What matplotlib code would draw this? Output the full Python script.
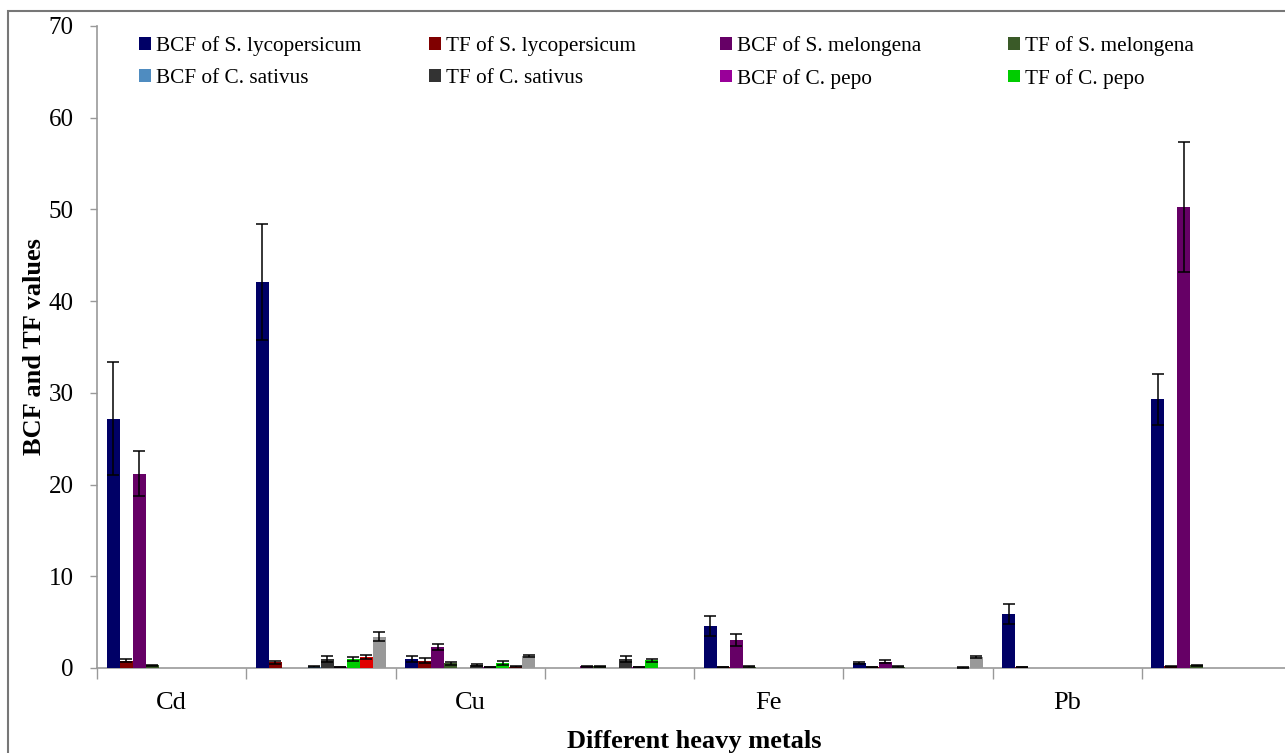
import matplotlib
matplotlib.use('Agg')
import matplotlib.pyplot as plt
from matplotlib.patches import Rectangle, Patch
import numpy as np

plt.rcParams['font.family'] = ['Liberation Serif', 'DejaVu Serif']

# 8 categories, only every other one labelled
categories = ['Cd', '', 'Cu', '', 'Fe', '', 'Pb', '']

series_names = ['BCF of S. lycopersicum', 'TF of S. lycopersicum',
                'BCF of S. melongena', 'TF of S. melongena',
                'BCF of C. sativus', 'TF of C. sativus',
                'BCF of C. pepo', 'TF of C. pepo',
                'Series 9', 'Series 10']
series_colors = ['#000066', '#800000', '#660066', '#3a5a28',
                 '#4f8cc0', '#333333', '#990099', '#00cc00',
                 '#e00000', '#999999']

bcf_sl = [27.2, 42.1, 1.0, 0.0, 4.6, 0.5, 5.9, 29.3]
bcf_sl_err = [6.2, 6.3, 0.3, 0.0, 1.1, 0.1, 1.1, 2.8]
tf_sl = [0.8, 0.6, 0.8, 0.0, 0.1, 0.1, 0.1, 0.2]
tf_sl_err = [0.2, 0.15, 0.3, 0.0, 0.02, 0.02, 0.02, 0.05]
bcf_sm = [21.2, 0.0, 2.3, 0.2, 3.05, 0.7, 0.0, 50.3]
bcf_sm_err = [2.5, 0.0, 0.3, 0.05, 0.7, 0.15, 0.0, 7.1]
tf_sm = [0.3, 0.0, 0.5, 0.2, 0.15, 0.15, 0.0, 0.3]
tf_sm_err = [0.05, 0.0, 0.15, 0.05, 0.02, 0.02, 0.0, 0.05]
bcf_cs = [0.0, 0.15, 0.0, 0.0, 0.0, 0.0, 0.0, 0.0]
bcf_cs_err = [0.0, 0.03, 0.0, 0.0, 0.0, 0.0, 0.0, 0.0]
tf_cs = [0.0, 1.0, 0.33, 1.0, 0.0, 0.0, 0.0, 0.0]
tf_cs_err = [0.0, 0.3, 0.1, 0.3, 0.0, 0.0, 0.0, 0.0]
bcf_cp = [0.0, 0.1, 0.1, 0.1, 0.0, 0.0, 0.0, 0.0]
bcf_cp_err = [0.0, 0.02, 0.02, 0.02, 0.0, 0.0, 0.0, 0.0]
tf_cp = [0.0, 1.0, 0.55, 0.85, 0.0, 0.0, 0.0, 0.0]
tf_cp_err = [0.0, 0.2, 0.2, 0.15, 0.0, 0.0, 0.0, 0.0]
series9 = [0.0, 1.2, 0.15, 0.0, 0.0, 0.05, 0.0, 0.0]
series9_err = [0.0, 0.2, 0.03, 0.0, 0.0, 0.02, 0.0, 0.0]
series10 = [0.0, 3.4, 1.3, 0.0, 0.0, 1.2, 0.0, 0.0]
series10_err = [0.0, 0.5, 0.15, 0.0, 0.0, 0.15, 0.0, 0.0]

values = [bcf_sl, tf_sl, bcf_sm, tf_sm, bcf_cs, tf_cs, bcf_cp, tf_cp, series9, series10]
errors = [bcf_sl_err, tf_sl_err, bcf_sm_err, tf_sm_err, bcf_cs_err, tf_cs_err,
          bcf_cp_err, tf_cp_err, series9_err, series10_err]

fig = plt.figure(figsize=(12.85, 7.53), dpi=100)
ax = fig.add_axes([97 / 1285, 1 - 668 / 753, 1194 / 1285, 642 / 753])

bar_w = 0.087
start = 0.065
x = np.arange(len(categories))
for i, (vals, errs, col) in enumerate(zip(values, errors, series_colors)):
    pos = x + start + bar_w * (i + 0.5)
    ax.bar(pos, vals, width=bar_w, color=col, edgecolor='none', zorder=2)
    ebar_pos = [p for p, e in zip(pos, errs) if e > 0]
    ebar_val = [v for v, e in zip(vals, errs) if e > 0]
    ebar_err = [e for e in errs if e > 0]
    if ebar_pos:
        ax.errorbar(ebar_pos, ebar_val, yerr=ebar_err, fmt='none', ecolor='black',
                    elinewidth=1.1, capsize=4.3, capthick=1.1, zorder=3)

ax.set_xlim(0, len(categories))
ax.set_ylim(0, 70)
ax.set_yticks(np.arange(0, 71, 10))
ax.set_xticks(np.arange(0, len(categories) + 1))
ax.set_xticklabels([])
ax.set_xticks(x + 0.5, minor=True)
ax.set_xticklabels(categories, minor=True)
ax.tick_params(axis='x', which='major', direction='out', length=8, width=1, color='#999999')
ax.tick_params(axis='x', which='minor', length=0, labelsize=19, pad=17)
ax.tick_params(axis='y', direction='out', length=5, width=1, color='#999999', labelsize=18, pad=12)

for side in ['top', 'right']:
    ax.spines[side].set_visible(False)
for side in ['left', 'bottom']:
    ax.spines[side].set_color('#999999')
    ax.spines[side].set_linewidth(1.2)
    ax.spines[side].set_zorder(1)

ax.set_ylabel('BCF and TF values', fontsize=19, fontweight='bold')
ax.set_xlabel('Different heavy metals', fontsize=19, fontweight='bold')
ax.yaxis.set_label_coords(-0.0425, 0.5)
ax.xaxis.set_label_coords(0.5, -0.097)

# legend laid out in 4 fixed columns (first 8 series only)
col_x = [139 / 1285, 429 / 1285, 720 / 1285, 1008 / 1285]
for c in range(4):
    handles = []
    for idx in (c, c + 4):
        handles.append(Patch(facecolor=series_colors[idx], label=series_names[idx]))
    fig.legend(handles=handles, loc='upper left', bbox_to_anchor=(col_x[c], 1 - 36 / 753),
               frameon=False, fontsize=15.3, handlelength=0.55, handleheight=0.55,
               handletextpad=0.25, labelspacing=0.6, borderaxespad=0, borderpad=0)

# outer chart border (cropped at right and bottom)
fig.patches.append(Rectangle((8 / 1285, -0.1), 1.2, 1.1 - 11 / 753, transform=fig.transFigure,
                             fill=False, edgecolor='#777777', linewidth=1.5))

fig.savefig('out.png', dpi=100)
